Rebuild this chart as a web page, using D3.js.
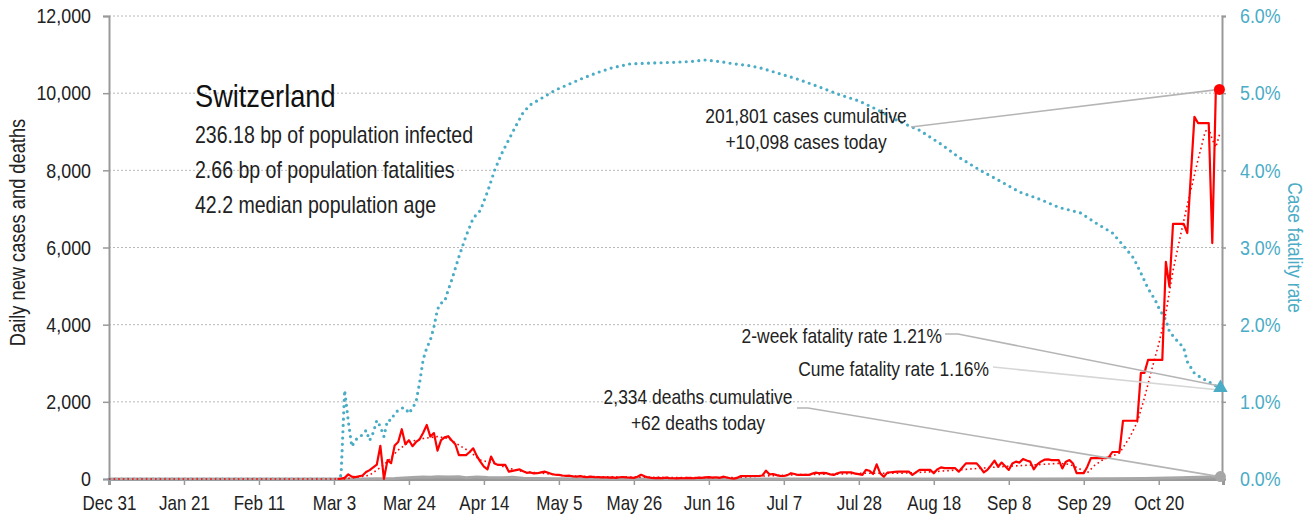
<!DOCTYPE html>
<html>
<head>
<meta charset="utf-8">
<script src="https://cdn.jsdelivr.net/npm/d3@7"></script>
<style>
  body { margin: 0; background: #fff; }
  svg { display: block; font-family: "Liberation Sans", Arial, sans-serif; }
</style>
</head>
<body>
<div id="chart"></div>
<script>
/* Switzerland daily cases / case fatality rate */

// x values are days counted from Dec 31, 2019
const tickDays = [0, 21, 42, 63, 84, 105, 126, 147, 168, 189, 210, 231, 252, 273, 294];
const tickLabels = ["Dec 31", "Jan 21", "Feb 11", "Mar 3", "Mar 24", "Apr 14", "May 5", "May 26",
    "Jun 16", "Jul 7", "Jul 28", "Aug 18", "Sep 8", "Sep 29", "Oct 20"];
const leftTicks = [0, 2000, 4000, 6000, 8000, 10000, 12000];
const rightTicks = [0, 1, 2, 3, 4, 5, 6];

// daily new cases, one value per day starting Mar 4
const casesStartDay = 64;
const dailyCases = [
    0, 10, 30, 120, 60, 50, 70, 90, 180, 230, 300, 370, 860, 0, 490, 410, 870, 960, 1290, 900,
    1005, 850, 960, 1030, 1200, 1400, 1100, 1190,
    735, 1005, 1080, 1110, 1000, 900, 620, 620, 620, 700, 795, 600, 450, 320, 250, 580, 400, 365,
    370, 365, 190, 210, 230, 250, 200, 160, 170, 145, 150, 170,
    190, 160, 130, 110, 105, 90, 80, 85, 70, 60, 75, 55, 50, 60, 45, 50, 40, 45, 35, 40,
    30, 45, 50, 40, 35, 30, 60, 110, 70, 40, 30,
    25, 30, 20, 35, 25, 20, 15, 25, 20, 30, 25, 20, 35, 30, 40, 50, 35, 45, 30, 60,
    40, 20, 10, 30, 78, 78, 78, 78, 78, 78,
    90, 215, 120, 130, 100, 80, 78, 100, 150, 130, 105, 105, 105, 105, 140, 165, 150, 160, 150, 120,
    105, 150, 170, 170, 170, 170, 140, 125, 105, 235, 215,
    130, 380, 145, 60, 165, 175, 185, 190, 190, 190, 190, 105, 170, 235, 235, 235, 235, 150, 250, 300,
    280, 280, 280, 280, 190, 300, 405, 405, 405, 405, 300,
    170, 235, 350, 475, 320, 425, 330, 235, 400, 450, 425, 520, 480, 450, 250, 380, 450, 500, 510, 490,
    490, 490, 275, 450, 490, 400, 150, 150, 150, 320,
    540, 540, 540, 540, 540, 560, 700, 700, 700, 1510, 1510, 1510, 1510, 1510, 2750, 2750, 3085, 3085, 3085, 3085,
    3085, 5625, 4985, 6610, 6610, 6610, 6610, 6375, 7880, 9385, 9225,
    9225, 9225, 9225, 6115, 10098, 10098
];

// smoothed cases (red dotted)
const trendDays = [0, 66, 70, 73, 77, 81, 84, 88, 92, 95, 98, 101, 104, 108, 111, 116, 122, 127, 137, 150,
    165, 176, 184, 194, 203, 212, 222, 231, 240, 250, 259, 266, 269, 271, 274, 276, 278, 280, 283, 286,
    288, 290, 292, 294, 296, 298, 300, 302, 305, 307, 308, 309, 310, 311];
const trendValues = [0, 0, 50, 100, 365, 750, 960, 1050, 1100, 1050, 880, 710, 490, 405, 300, 190, 145, 85, 60, 45,
    35, 40, 80, 115, 125, 150, 150, 190, 250, 320, 365, 405, 380, 300, 160, 350, 480, 560, 670, 1100,
    1480, 2100, 2820, 3500, 4300, 5400, 6270, 7100, 8270, 9000, 9100, 8800, 8600, 8920];

// case fatality rate, percent
const cfrDays = [0, 64, 65, 66, 67, 68, 69, 70, 71, 72, 73, 74, 75, 76, 77, 78, 79, 80, 81, 82,
    83, 84, 85, 86, 87, 88, 89, 90, 91, 92, 93, 94, 95, 96, 98, 100, 102, 104, 106, 108,
    110, 112, 114, 116, 118, 121, 125, 129, 133, 137, 141, 146, 152, 158, 163, 167, 171, 175, 179, 183,
    188, 193, 199, 204, 210, 215, 221, 227, 233, 238, 244, 250, 255, 261, 266, 272, 277, 281, 284, 287,
    289, 291, 293, 294, 296, 297, 299, 301, 302, 304, 306, 308, 311];
const cfrValues = [0, 0, 0.05, 1.15, 0.76, 0.42, 0.5, 0.55, 0.57, 0.63, 0.5, 0.6, 0.76, 0.68, 0.55, 0.76, 0.76, 0.85, 0.89, 0.92,
    0.92, 0.85, 0.92, 1.0, 1.25, 1.55, 1.7, 1.8, 1.97, 2.2, 2.28, 2.3, 2.45, 2.58, 2.88, 3.15, 3.38, 3.48, 3.72, 4.0,
    4.22, 4.4, 4.58, 4.75, 4.85, 4.93, 5.04, 5.12, 5.2, 5.27, 5.33, 5.38, 5.39, 5.4, 5.41, 5.43, 5.41, 5.38, 5.36, 5.32,
    5.25, 5.18, 5.08, 4.99, 4.9, 4.79, 4.64, 4.52, 4.34, 4.17, 4.0, 3.85, 3.72, 3.62, 3.52, 3.45, 3.3, 3.19, 3.03, 2.86,
    2.67, 2.47, 2.32, 2.22, 2.06, 1.91, 1.8, 1.7, 1.52, 1.37, 1.31, 1.26, 1.18];

// daily deaths (gray)
const deathDays = [0, 64, 70, 75, 80, 85, 88, 90, 92, 95, 98, 100, 103, 106, 110, 113, 116, 120, 125, 130,
    140, 150, 170, 200, 230, 260, 280, 290, 300, 305, 308, 311];
const deathValues = [0, 0, 2, 5, 15, 40, 55, 45, 60, 50, 60, 35, 55, 40, 30, 45, 20, 15, 8, 5,
    2, 1, 1, 1, 1, 2, 4, 10, 30, 45, 55, 62];

const width = 1307,
    height = 518,
    margin = ({ top: 16, right: 85, bottom: 39, left: 109 });
const teal = "#4bacc6",
    red = "#ff0000",
    grey = "#a6a6a6",
    narrow = 0.85; // Liberation Sans squeezed to a narrow face

let svg = d3.select("#chart")
    .append("svg")
    .attr("width", width)
    .attr("height", height)
    .attr("viewBox", [0, 0, width, height]);

// move a text's x into a transform so it can be squeezed horizontally
function squeeze(sel) {
    sel.each(function () {
        let t = d3.select(this);
        let x0 = +t.attr("x") || 0;
        let prev = t.attr("transform") || "";
        t.attr("x", 0).attr("transform", `${prev} translate(${x0},0) scale(${narrow},1)`);
    });
}

let x = d3.scaleLinear()
    .domain([0, 312])
    .range([margin.left, width - margin.right + 1]);

let y = d3.scaleLinear()
    .domain([0, 12000])
    .range([height - margin.bottom, margin.top]);

let y2 = d3.scaleLinear()
    .domain([0, 6])
    .range([height - margin.bottom, margin.top]);

const plotRight = width - margin.right;

// gridlines
svg.append("g")
    .selectAll("line")
    .data(leftTicks.filter(d => d > 0))
    .join("line")
    .attr("x1", margin.left)
    .attr("x2", plotRight)
    .attr("y1", d => y(d))
    .attr("y2", d => y(d))
    .attr("stroke", "#b8b8b8")
    .attr("stroke-width", 1)
    .attr("stroke-dasharray", "2 2");

// axes
let axisLeft = svg.append("g")
    .attr("transform", `translate(${margin.left},0)`)
    .call(d3.axisLeft(y).tickValues(leftTicks).tickFormat(d3.format(",")).tickSize(6).tickPadding(12));

let axisRight = svg.append("g")
    .attr("transform", `translate(${plotRight},0)`)
    .call(d3.axisRight(y2).tickValues(rightTicks).tickFormat(d => d.toFixed(1) + "%").tickSize(4).tickPadding(14));

let axisBottom = svg.append("g")
    .attr("transform", `translate(0,${height - margin.bottom})`)
    .call(d3.axisBottom(x).tickValues(tickDays).tickFormat((d, i) => tickLabels[i]).tickSize(6).tickPadding(11));

for (let a of [axisLeft, axisRight, axisBottom]) {
    a.select(".domain").attr("stroke", "#999").attr("stroke-width", 2);
    a.selectAll(".tick line").attr("stroke", "#999").attr("stroke-width", 1.5);
    a.selectAll("text").style("font-size", "21px").attr("fill", "#222").call(squeeze);
}
axisBottom.select(".domain").attr("stroke-width", 3);
axisBottom.selectAll("text").style("font-size", "20px");
axisRight.selectAll("text").attr("fill", teal);

svg.append("text")
    .attr("transform", `translate(25,${(margin.top + height - margin.bottom) / 2 - 15}) rotate(-90) scale(${narrow},1)`)
    .attr("text-anchor", "middle")
    .style("font-size", "21.5px")
    .attr("fill", "#222")
    .text("Daily new cases and deaths");

svg.append("text")
    .attr("transform", `translate(1288,${(margin.top + height - margin.bottom) / 2}) rotate(90) scale(${narrow},1)`)
    .attr("text-anchor", "middle")
    .style("font-size", "20.5px")
    .attr("fill", teal)
    .text("Case fatality rate");

// series
const cases = dailyCases.map((v, i) => ({ day: casesStartDay + i, value: v }));
const trend = trendDays.map((d, i) => ({ day: d, value: trendValues[i] }));
const cfr = cfrDays.map((d, i) => ({ day: d, value: cfrValues[i] }));
const deaths = deathDays.map((d, i) => ({ day: d, value: deathValues[i] }));

let line = d3.line().x(d => x(d.day)).y(d => y(d.value));
let line2 = d3.line().x(d => x(d.day)).y(d => y2(d.value));

svg.append("path")
    .datum(cfr)
    .attr("d", line2)
    .attr("fill", "none")
    .attr("stroke", teal)
    .attr("stroke-width", 3.2)
    .attr("stroke-linecap", "round")
    .attr("stroke-dasharray", "0 6.3");

svg.append("path")
    .datum(deaths)
    .attr("d", line)
    .attr("fill", "none")
    .attr("stroke", grey)
    .attr("stroke-width", 3);

svg.append("path")
    .datum(trend)
    .attr("d", line)
    .attr("fill", "none")
    .attr("stroke", red)
    .attr("stroke-width", 1.6)
    .attr("stroke-dasharray", "1.6 3");

svg.append("path")
    .datum(cases)
    .attr("d", line)
    .attr("fill", "none")
    .attr("stroke", red)
    .attr("stroke-width", 2.2)
    .attr("stroke-linejoin", "round");

// end markers and leader lines
const lastCase = cases[cases.length - 1],
    lastCfr = cfr[cfr.length - 1],
    lastDeath = deaths[deaths.length - 1];

const leaders = [
    { pts: [[911, 127], [x(lastCase.day), y(lastCase.value)]], color: "#b5b5b5" },
    { pts: [[945, 334], [958, 334], [x(lastCfr.day), y2(lastCfr.value) - 2]], color: "#b5b5b5" },
    { pts: [[993, 367], [x(lastCfr.day), y2(lastCfr.value) + 2]], color: "#d6d6d6" },
    { pts: [[797, 408], [808, 408], [x(lastDeath.day), y(lastDeath.value)]], color: "#b5b5b5" }
];

svg.append("g")
    .selectAll("path")
    .data(leaders)
    .join("path")
    .attr("d", d => d3.line()(d.pts))
    .attr("fill", "none")
    .attr("stroke", d => d.color)
    .attr("stroke-width", 1.6);

svg.append("circle")
    .attr("cx", x(lastCase.day))
    .attr("cy", y(lastCase.value))
    .attr("r", 5.5)
    .attr("fill", red);

svg.append("path")
    .attr("d", d3.symbol(d3.symbolTriangle, 90)())
    .attr("transform", `translate(${x(lastCfr.day) + 1},${y2(lastCfr.value)})`)
    .attr("fill", teal);

svg.append("circle")
    .attr("cx", x(lastDeath.day) + 1)
    .attr("cy", y(lastDeath.value))
    .attr("r", 5.5)
    .attr("fill", grey);

// text block
svg.append("text")
    .attr("x", 195)
    .attr("y", 107)
    .style("font-size", "32px")
    .attr("fill", "#111")
    .text("Switzerland")
    .call(squeeze);

const infoLines = ["236.18 bp of population infected", "2.66 bp of population fatalities", "42.2 median population age"];
svg.append("g")
    .selectAll("text")
    .data(infoLines)
    .join("text")
    .attr("x", 195)
    .attr("y", (d, i) => 143 + i * 35)
    .style("font-size", "23px")
    .attr("fill", "#222")
    .text(d => d)
    .call(squeeze);

const notes = [
    { text: "201,801 cases cumulative", x: 806, y: 123, anchor: "middle" },
    { text: "+10,098 cases today", x: 806, y: 149, anchor: "middle" },
    { text: "2-week fatality rate 1.21%", x: 942, y: 343, anchor: "end" },
    { text: "Cume fatality rate 1.16%", x: 989, y: 376, anchor: "end" },
    { text: "2,334 deaths cumulative", x: 698, y: 404, anchor: "middle" },
    { text: "+62 deaths today", x: 698, y: 430, anchor: "middle" }
];

svg.append("g")
    .selectAll("text")
    .data(notes)
    .join("text")
    .attr("x", d => d.x)
    .attr("y", d => d.y)
    .attr("text-anchor", d => d.anchor)
    .style("font-size", "20.5px")
    .attr("fill", "#222")
    .text(d => d.text)
    .call(squeeze);
</script>
</body>
</html>
